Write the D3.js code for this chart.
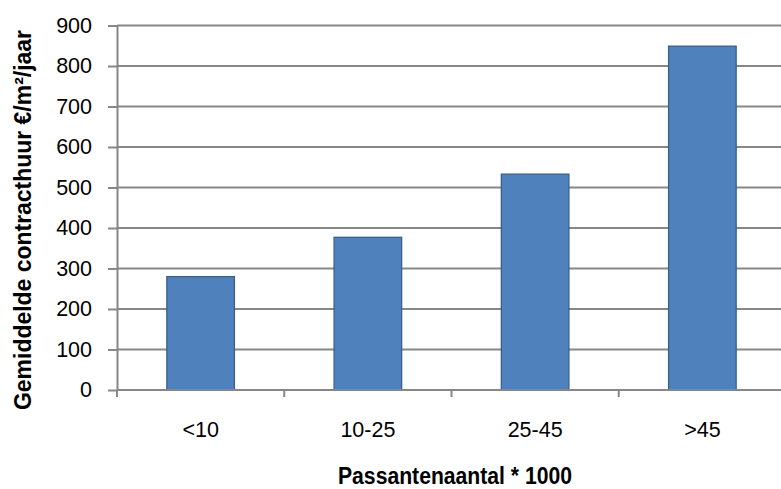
<!DOCTYPE html>
<html>
<head>
<meta charset="utf-8">
<script src="https://cdn.jsdelivr.net/npm/d3@7"></script>
<style>
  body { margin: 0; background: #fff; }
</style>
</head>
<body>
<svg></svg>
<script>
let categories = ['<10', '10-25', '25-45', '>45'];
let values = [280, 377, 533, 849];
let yTicks = [0, 100, 200, 300, 400, 500, 600, 700, 800, 900];

let width = 781;
let height = 489;

let svg = d3.select('svg')
    .attr('width', width)
    .attr('height', height)
    .attr('font-family', '"Liberation Sans", Arial, sans-serif');

let plotLeft = 117, plotRight = 786, plotTop = 25.5, plotBottom = 390;

let x = d3.scaleBand()
    .domain(categories)
    .range([plotLeft, plotRight])
    .paddingInner(0.596)
    .paddingOuter(0.298);

let y = d3.scaleLinear()
    .domain([0, 900])
    .range([plotBottom, plotTop]);

let grey = '#878787';

// gridlines
svg.append('g')
    .selectAll('line')
    .data(yTicks.filter(d => d > 0))
    .enter()
    .append('line')
    .attr('x1', plotLeft)
    .attr('x2', width)
    .attr('y1', d => y(d))
    .attr('y2', d => y(d))
    .attr('stroke', grey)
    .attr('stroke-width', 2);

// bars
svg.append('g')
    .selectAll('rect')
    .data(values)
    .enter()
    .append('rect')
    .attr('x', (d, i) => x(categories[i]))
    .attr('y', d => y(d))
    .attr('width', x.bandwidth())
    .attr('height', d => plotBottom - y(d))
    .attr('fill', '#4F81BD')
    .attr('stroke', '#3A5F8B')
    .attr('stroke-width', 1.3);

// y axis
let yAxis = svg.append('g')
    .attr('transform', `translate(${plotLeft},0)`)
    .call(d3.axisLeft(y).tickValues(yTicks).tickSize(9).tickPadding(16).tickSizeOuter(0));
yAxis.select('.domain').attr('stroke', grey).attr('stroke-width', 2);
yAxis.selectAll('.tick line').attr('stroke', grey).attr('stroke-width', 2);
yAxis.selectAll('.tick text')
    .attr('font-size', 21.5)
    .attr('fill', '#000');

// x axis
let xBoundaries = categories.map(c => x(c) - x.step() * x.paddingInner() / 2);
let xAxis = svg.append('g')
    .attr('transform', `translate(0,${plotBottom})`);
xAxis.append('line')
    .attr('x1', plotLeft)
    .attr('x2', width)
    .attr('stroke', grey)
    .attr('stroke-width', 2);
xAxis.selectAll('.xtick')
    .data(xBoundaries)
    .enter()
    .append('line')
    .attr('class', 'xtick')
    .attr('x1', d => d)
    .attr('x2', d => d)
    .attr('y1', 0)
    .attr('y2', 7)
    .attr('stroke', grey)
    .attr('stroke-width', 2);
xAxis.selectAll('text')
    .data(categories)
    .enter()
    .append('text')
    .attr('x', d => x(d) + x.bandwidth() / 2)
    .attr('y', 47)
    .attr('text-anchor', 'middle')
    .attr('font-size', 21.5)
    .text(d => d);

// axis titles
svg.append('text')
    .attr('x', 455)
    .attr('y', 484)
    .attr('text-anchor', 'middle')
    .attr('font-weight', 'bold')
    .attr('font-size', 23)
    .attr('textLength', 234)
    .attr('lengthAdjust', 'spacingAndGlyphs')
    .text('Passantenaantal * 1000');

svg.append('text')
    .attr('transform', 'translate(31,220) rotate(-90)')
    .attr('text-anchor', 'middle')
    .attr('font-weight', 'bold')
    .attr('font-size', 23)
    .attr('textLength', 380)
    .attr('lengthAdjust', 'spacingAndGlyphs')
    .text('Gemiddelde contracthuur €/m²/jaar');
</script>
</body>
</html>
